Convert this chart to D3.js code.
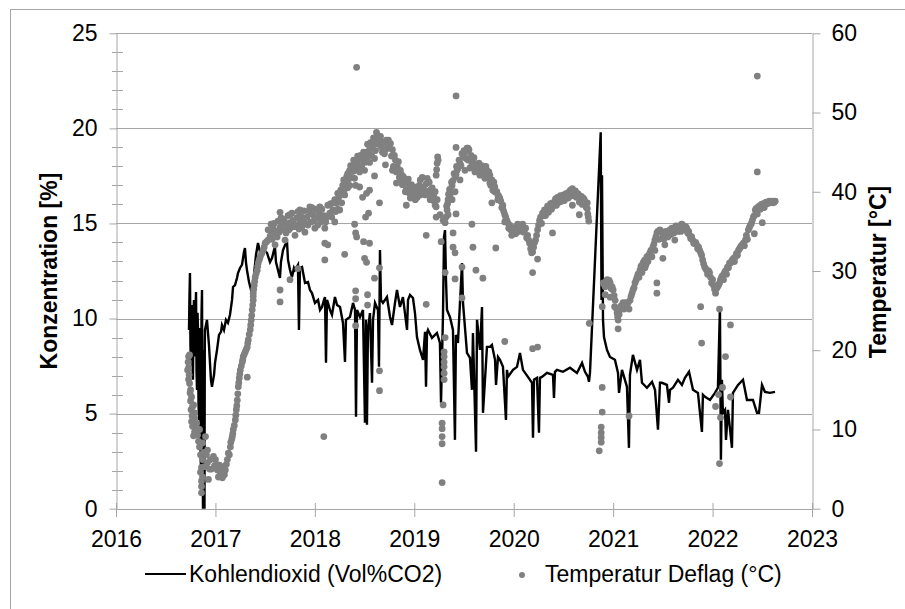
<!DOCTYPE html>
<html>
<head>
<meta charset="utf-8">
<script src="https://cdn.jsdelivr.net/npm/d3@7"></script>
<style>
  body { margin: 0; background: #fff; }
  svg text { font-family: "Liberation Sans", Arial, sans-serif; fill: #000; }
</style>
</head>
<body>
<svg id="chart" width="905" height="609"></svg>
<script>
// CO2 (left axis, %)
const co2Years = [
  2016.734, 2016.739, 2016.744, 2016.749, 2016.754, 2016.759, 2016.764, 2016.769, 2016.774, 2016.779,
  2016.784, 2016.789, 2016.795, 2016.800, 2016.805, 2016.810, 2016.815, 2016.820, 2016.825, 2016.830,
  2016.835, 2016.840, 2016.845, 2016.850, 2016.855, 2016.860, 2016.865, 2016.870, 2016.875, 2016.880,
  2016.885, 2016.888, 2016.890, 2016.893, 2016.895, 2016.915, 2016.935,
  2016.955, 2016.965, 2016.986, 2016.996, 2017.016, 2017.036, 2017.056, 2017.066, 2017.086, 2017.106,
  2017.126, 2017.146, 2017.167, 2017.177, 2017.197, 2017.217, 2017.227, 2017.247, 2017.267, 2017.287,
  2017.297, 2017.307, 2017.317, 2017.338, 2017.358, 2017.368, 2017.388, 2017.408, 2017.428, 2017.448,
  2017.468, 2017.488, 2017.519, 2017.549, 2017.569, 2017.589, 2017.599, 2017.609, 2017.629, 2017.649,
  2017.659, 2017.680, 2017.700, 2017.720, 2017.730, 2017.750, 2017.770, 2017.790, 2017.800, 2017.830,
  2017.840, 2017.850, 2017.871, 2017.901, 2017.931, 2017.951, 2017.971, 2018.001, 2018.032, 2018.052,
  2018.072, 2018.092, 2018.102, 2018.112, 2018.122, 2018.132, 2018.152, 2018.172, 2018.192, 2018.202,
  2018.223, 2018.253, 2018.283, 2018.303, 2018.313, 2018.353, 2018.384, 2018.404, 2018.414, 2018.424,
  2018.454, 2018.484, 2018.504, 2018.514, 2018.524, 2018.534, 2018.554, 2018.575, 2018.585, 2018.605,
  2018.635, 2018.645, 2018.655, 2018.665, 2018.685, 2018.725, 2018.756, 2018.776, 2018.806, 2018.826,
  2018.856, 2018.886, 2018.927, 2018.937, 2018.957, 2018.987, 2019.007, 2019.027, 2019.057, 2019.088,
  2019.108, 2019.118, 2019.128, 2019.138, 2019.178, 2019.228, 2019.258, 2019.269, 2019.289, 2019.299,
  2019.309, 2019.319, 2019.329, 2019.359, 2019.389, 2019.409, 2019.419, 2019.439, 2019.480, 2019.490,
  2019.530, 2019.560, 2019.580, 2019.590, 2019.621, 2019.631, 2019.661, 2019.681, 2019.691, 2019.731,
  2019.761, 2019.781, 2019.812, 2019.822, 2019.842, 2019.862, 2019.892, 2019.922, 2019.932, 2019.942,
  2019.993, 2020.033, 2020.063, 2020.093, 2020.143, 2020.184, 2020.194, 2020.204, 2020.234, 2020.254,
  2020.264, 2020.284, 2020.335, 2020.395, 2020.405, 2020.415, 2020.435, 2020.495, 2020.566, 2020.636,
  2020.687, 2020.717, 2020.747, 2020.757, 2020.767, 2020.875, 2020.883, 2020.888, 2020.898, 2020.908,
  2020.938, 2020.968, 2021.018, 2021.049, 2021.059, 2021.089, 2021.139, 2021.159, 2021.169, 2021.199,
  2021.240, 2021.270, 2021.290, 2021.340, 2021.391, 2021.421, 2021.451, 2021.471, 2021.491, 2021.541,
  2021.562, 2021.572, 2021.602, 2021.652, 2021.692, 2021.722, 2021.763, 2021.803, 2021.853, 2021.893,
  2021.903, 2021.924, 2021.974, 2022.024, 2022.054, 2022.074, 2022.084, 2022.094, 2022.104, 2022.125,
  2022.135, 2022.155, 2022.195, 2022.205, 2022.256, 2022.306, 2022.346, 2022.406, 2022.447, 2022.467,
  2022.497, 2022.527, 2022.577, 2022.628
];
const co2Values = [
  9.40, 11.20, 12.39, 8.50, 7.83, 10.20, 10.71, 7.50, 6.78, 9.80,
  10.98, 8.00, 9.40, 10.50, 11.40, 7.20, 6.25, 10.30, 9.40, 5.50,
  4.67, 9.50, 8.88, 3.20, 2.05, 10.20, 11.50, 4.00, 0, 7.50,
  8.35, 1.50, 0, 8.60, 9.40, 9.93, 8.61,
  6.78, 6.41, 7.04, 7.67, 8.35, 9.14, 9.30, 9.66, 9.40, 9.93,
  9.77, 10.19, 10.98, 11.66, 11.76, 12.13, 12.39, 12.66, 12.82, 13.50,
  13.71, 12.97, 12.55, 11.92, 11.50, 11.34, 12.29, 13.34, 13.97, 13.50,
  13.24, 13.60, 13.45, 12.97, 13.18, 13.60, 13.76, 12.97, 12.55, 12.13,
  12.97, 13.60, 13.87, 14.02, 13.08, 12.55, 12.18, 12.66, 12.55, 12.82,
  9.40, 12.66, 12.71, 11.87, 11.92, 11.50, 11.34, 10.82, 10.98, 10.45,
  10.61, 10.98, 11.13, 7.67, 10.98, 10.82, 10.45, 10.19, 10.82, 11.13,
  10.71, 10.61, 9.77, 7.72, 9.93, 10.08, 10.82, 10.45, 4.83, 10.45,
  10.08, 10.45, 4.52, 9.93, 4.41, 9.40, 10.29, 6.62, 9.93, 10.82,
  10.45, 7.46, 13.60, 10.98, 10.82, 11.13, 10.08, 9.66, 10.82, 11.50,
  10.61, 11.13, 9.40, 10.98, 11.24, 11.08, 10.29, 9.03, 8.35, 7.83,
  9.30, 6.41, 9.24, 9.40, 8.98, 9.24, 8.72, 5.57, 10.29, 14.29,
  14.65, 12.03, 10.45, 10.08, 9.40, 3.62, 9.14, 8.72, 12.92, 10.82,
  8.19, 7.93, 6.25, 9.24, 2.99, 9.93, 8.35, 10.61, 5.04, 8.51,
  8.51, 8.61, 7.83, 6.51, 7.98, 7.83, 7.46, 4.67, 7.30, 6.93,
  7.30, 7.46, 8.19, 7.30, 6.93, 6.62, 3.73, 6.78, 6.88, 3.99,
  6.88, 6.93, 7.14, 7.04, 5.83, 7.20, 7.30, 7.20, 7.41, 7.14,
  7.67, 7.20, 6.93, 6.67, 7.14, 19.80, 10.98, 17.54, 9.93, 9.03,
  8.35, 7.98, 7.83, 7.14, 6.09, 7.30, 6.41, 3.20, 7.04, 8.09,
  7.30, 7.83, 6.62, 6.36, 6.67, 6.25, 4.15, 6.62, 6.62, 6.51,
  5.57, 6.25, 6.36, 6.78, 6.51, 6.88, 7.20, 6.25, 6.09, 4.04,
  5.99, 5.88, 5.72, 6.09, 6.36, 10.56, 2.57, 6.78, 5.04, 5.20,
  3.62, 5.20, 3.20, 6.09, 6.51, 6.78, 5.72, 5.72, 5.04, 5.04,
  6.51, 6.14, 6.09, 6.14
];

// Temperatur Deflag (right axis, °C)
const tempYears = [
  2016.72, 2016.73, 2016.73, 2016.74, 2016.75, 2016.76, 2016.77, 2016.76, 2016.78, 2016.79,
  2016.79, 2016.81, 2016.84, 2016.84, 2016.86, 2016.86, 2016.86, 2016.87, 2016.87, 2016.87,
  2016.90, 2016.92, 2016.92, 2016.93, 2016.95, 2016.98, 2017.00, 2017.02, 2017.03, 2017.05,
  2017.07, 2017.08, 2017.10, 2017.12, 2017.15, 2017.17, 2017.18, 2017.20, 2017.21, 2017.22,
  2017.23, 2017.24, 2017.25, 2017.27, 2017.28, 2017.30, 2017.32, 2017.33, 2017.35, 2017.36,
  2017.37, 2017.38, 2017.38, 2017.39, 2017.40, 2017.42, 2017.43, 2017.45, 2017.48, 2017.50,
  2017.53, 2017.53, 2017.55, 2017.58, 2017.58, 2017.60, 2017.62, 2017.65, 2017.65, 2017.66,
  2017.68, 2017.70, 2017.72, 2017.75, 2017.75, 2017.78, 2017.80, 2017.82, 2017.85, 2017.85,
  2017.88, 2017.90, 2017.92, 2017.95, 2017.95, 2017.98, 2018.00, 2018.02, 2018.05, 2018.05,
  2018.08, 2018.10, 2018.12, 2018.13, 2018.15, 2018.18, 2018.20, 2018.20, 2018.22, 2018.24,
  2018.25, 2018.25, 2018.28, 2018.30, 2018.32, 2018.35, 2018.35, 2018.38, 2018.40, 2018.42,
  2018.45, 2018.45, 2018.48, 2018.50, 2018.50, 2018.52, 2018.55, 2018.55, 2018.58, 2018.60,
  2018.60, 2018.62, 2018.63, 2018.65, 2018.67, 2018.71, 2018.71, 2018.73, 2018.74, 2018.76,
  2018.78, 2018.78, 2018.81, 2018.83, 2018.86, 2018.86, 2018.89, 2018.91, 2018.93, 2018.96,
  2018.96, 2018.99, 2019.01, 2019.03, 2019.06, 2019.06, 2019.09, 2019.11, 2019.13, 2019.16,
  2019.16, 2019.19, 2019.22, 2019.23, 2019.24, 2019.23, 2019.22, 2019.26, 2019.29, 2019.31,
  2019.33, 2019.34, 2019.34, 2019.36, 2019.38, 2019.38, 2019.41, 2019.41, 2019.43, 2019.46,
  2019.46, 2019.49, 2019.51, 2019.51, 2019.53, 2019.55, 2019.56, 2019.57, 2019.59, 2019.61,
  2019.63, 2019.66, 2019.66, 2019.69, 2019.71, 2019.73, 2019.76, 2019.76, 2019.78, 2019.79,
  2019.81, 2019.81, 2019.84, 2019.84, 2019.86, 2019.89, 2019.89, 2019.91, 2019.91, 2019.93,
  2019.94, 2019.96, 2019.98, 2020.00, 2020.03, 2020.06, 2020.08, 2020.11, 2020.14, 2020.16,
  2020.18, 2020.20, 2020.22, 2020.24, 2020.26, 2020.29, 2020.33, 2020.36, 2020.39, 2020.41,
  2020.45, 2020.49, 2020.52, 2020.54, 2020.57, 2020.60, 2020.64, 2020.67, 2020.70, 2020.72,
  2020.74, 2020.75,
  2020.90, 2020.92, 2020.94, 2020.97, 2020.99, 2021.00, 2021.02, 2021.04, 2021.05, 2021.07,
  2021.09, 2021.10, 2021.12, 2021.14, 2021.17, 2021.19, 2021.20, 2021.22, 2021.24, 2021.27,
  2021.30, 2021.32, 2021.34, 2021.37, 2021.40, 2021.42, 2021.44, 2021.47, 2021.49, 2021.50,
  2021.52, 2021.54, 2021.57, 2021.60, 2021.62, 2021.64, 2021.67, 2021.70, 2021.72, 2021.74,
  2021.77, 2021.80, 2021.82, 2021.84, 2021.87, 2021.89, 2021.90, 2021.92, 2021.94, 2021.97,
  2022.00, 2022.03, 2022.05, 2022.07, 2022.09, 2022.12, 2022.15, 2022.18, 2022.20, 2022.23,
  2022.26, 2022.28, 2022.30, 2022.33, 2022.36, 2022.38, 2022.40, 2022.43, 2022.46, 2022.50,
  2022.53, 2022.56, 2022.59, 2022.62,
  2021.32, 2021.42, 2021.52, 2021.62, 2020.92, 2020.97,
  // band edges
  2016.725, 2016.730, 2016.735, 2016.740, 2016.745, 2016.750, 2016.755, 2016.765, 2016.770, 2016.780,
  2016.790, 2016.800, 2016.820, 2016.830, 2016.850, 2016.850, 2016.860, 2016.880, 2016.890, 2016.910,
  2016.940, 2016.960, 2016.990, 2017.010, 2017.040, 2017.060, 2017.090, 2017.110, 2017.130, 2017.140,
  2017.155, 2017.165, 2017.175, 2017.190, 2017.205, 2017.215, 2017.225, 2017.235, 2017.245, 2017.260,
  2017.275, 2017.290, 2017.310, 2017.325, 2017.340, 2017.355, 2017.365, 2017.375, 2017.380, 2017.385,
  2017.395, 2017.410, 2017.425, 2017.440, 2017.465, 2017.490, 2017.515, 2017.560, 2017.570, 2017.590,
  2017.610, 2017.630, 2017.640, 2017.670, 2017.690, 2017.710, 2017.730, 2017.740, 2017.760, 2017.770,
  2017.790, 2017.810, 2017.830, 2017.840, 2017.860, 2017.870, 2017.890, 2017.910, 2017.930, 2017.940,
  2017.960, 2017.970, 2017.990, 2018.010, 2018.030, 2018.040, 2018.060, 2018.070, 2018.090, 2018.110,
  2018.140, 2018.160, 2018.170, 2018.190, 2018.210, 2018.230, 2018.230, 2018.260, 2018.270, 2018.290,
  2018.290, 2018.310, 2018.330, 2018.330, 2018.340, 2018.360, 2018.370, 2018.390, 2018.390, 2018.410,
  2018.430, 2018.440, 2018.460, 2018.470, 2018.490, 2018.510, 2018.530, 2018.540, 2018.560, 2018.570,
  2018.590, 2018.610, 2018.620, 2018.640, 2018.660, 2018.680, 2018.690, 2018.700, 2018.720, 2018.750,
  2018.770, 2018.790, 2018.800, 2018.820, 2018.840, 2018.850, 2018.870, 2018.880, 2018.900, 2018.920,
  2018.940, 2018.950, 2018.970, 2018.980, 2019.000, 2019.020, 2019.040, 2019.050, 2019.070, 2019.080,
  2019.100, 2019.120, 2019.140, 2019.150, 2019.170, 2019.180, 2019.200, 2019.210, 2019.225, 2019.235,
  2019.320, 2019.325, 2019.335, 2019.345, 2019.355, 2019.370, 2019.375, 2019.390, 2019.400, 2019.420,
  2019.425, 2019.440, 2019.450, 2019.470, 2019.480, 2019.500, 2019.520, 2019.540, 2019.540, 2019.580,
  2019.600, 2019.620, 2019.640, 2019.650, 2019.670, 2019.680, 2019.700, 2019.720, 2019.740, 2019.750,
  2019.770, 2019.800, 2019.830, 2019.850, 2019.870, 2019.880, 2019.900, 2019.920, 2019.950, 2019.970,
  2019.990, 2020.010, 2020.020, 2020.040, 2020.050, 2020.070, 2020.090, 2020.100, 2020.120, 2020.130,
  2020.150, 2020.170, 2020.190, 2020.210, 2020.230, 2020.250, 2020.270, 2020.280, 2020.300, 2020.310,
  2020.320, 2020.340, 2020.350, 2020.370, 2020.380, 2020.400, 2020.420, 2020.430, 2020.440, 2020.460,
  2020.470, 2020.480, 2020.500, 2020.510, 2020.530, 2020.550, 2020.560, 2020.580, 2020.590, 2020.610,
  2020.620, 2020.630, 2020.650, 2020.660, 2020.680, 2020.690, 2020.710, 2020.730, 2020.740, 2020.745,
  2020.755, 2020.910, 2020.930, 2020.950, 2020.960, 2020.980, 2021.010, 2021.015, 2021.030, 2021.045,
  2021.060, 2021.080, 2021.110, 2021.130, 2021.150, 2021.160, 2021.180, 2021.210, 2021.230, 2021.250,
  2021.260, 2021.280, 2021.290, 2021.310, 2021.330, 2021.350, 2021.360, 2021.380, 2021.390, 2021.410,
  2021.430, 2021.450, 2021.460, 2021.480, 2021.510, 2021.530, 2021.550, 2021.560, 2021.580, 2021.590,
  2021.610, 2021.630, 2021.650, 2021.660, 2021.680, 2021.690, 2021.710, 2021.730, 2021.750, 2021.760,
  2021.780, 2021.790, 2021.810, 2021.830, 2021.850, 2021.860, 2021.880, 2021.910, 2021.930, 2021.950,
  2021.960, 2021.980, 2021.990, 2022.010, 2022.020, 2022.040, 2022.060, 2022.080, 2022.100, 2022.110,
  2022.130, 2022.140, 2022.160, 2022.170, 2022.190, 2022.210, 2022.220, 2022.240, 2022.250, 2022.270,
  2022.290, 2022.310, 2022.320, 2022.340, 2022.350, 2022.370, 2022.390, 2022.410, 2022.420, 2022.440,
  2022.450, 2022.470, 2022.480, 2022.490, 2022.510, 2022.520, 2022.540, 2022.550, 2022.570, 2022.580,
  2022.600, 2022.610, 2022.630,
  // scattered readings
  2017.32, 2017.65, 2017.65, 2017.75, 2017.83, 2018.10, 2018.13, 2018.10, 2018.09, 2018.42,
  2018.41, 2018.45, 2018.48, 2018.52, 2018.55, 2018.51, 2018.54, 2018.60, 2018.65, 2018.40,
  2018.41, 2018.42, 2018.49, 2018.55, 2018.30, 2018.50, 2018.52, 2018.65, 2018.60, 2018.41,
  2018.41, 2018.53, 2018.53, 2018.41, 2018.65, 2018.65, 2018.82, 2018.92, 2019.12, 2019.12,
  2019.20, 2019.21, 2019.22, 2019.27, 2019.31, 2019.31, 2019.30, 2019.30, 2019.30, 2019.30,
  2019.30, 2019.30, 2019.29, 2019.28, 2019.28, 2019.28, 2019.28, 2019.28, 2019.39, 2019.39,
  2019.41, 2019.41, 2019.42, 2019.42, 2019.42, 2019.48, 2019.48, 2019.58, 2019.59, 2019.62,
  2019.69, 2019.78, 2019.82, 2019.91, 2020.19, 2020.24, 2020.19, 2020.24, 2020.39, 2020.59,
  2020.66, 2020.76, 2020.89, 2020.89, 2020.89, 2020.88, 2020.88, 2020.88, 2020.88, 2020.86,
  2021.05, 2021.16, 2021.44, 2021.44, 2021.50, 2021.88, 2021.89, 2022.07, 2022.03, 2022.06,
  2022.08, 2022.07, 2022.10, 2022.13, 2022.18, 2022.18, 2022.42, 2022.45, 2022.45, 2022.50
];
const tempValues = [
  17.5, 19.2, 16.3, 19.4, 15.0, 14.1, 12.9, 11.0, 13.1, 12.1,
  9.7, 10.8, 10.0, 7.8, 5.2, 2.8, 2.0, 8.3, 6.2, 4.0,
  9.1, 7.4, 5.8, 3.7, 6.2, 6.6, 6.2, 4.9, 4.0, 4.5,
  3.9, 5.3, 4.9, 6.2, 7.8, 9.1, 10.0, 11.2, 12.5, 13.7,
  15.4, 16.5, 17.5, 18.5, 19.2, 19.8, 20.4, 21.3, 22.6, 23.8,
  25.1, 26.3, 27.2, 28.2, 29.2, 30.1, 31.0, 31.8, 32.6, 33.5,
  33.9, 35.2, 34.4, 34.8, 35.4, 33.3, 34.3, 35.5, 37.4, 36.7,
  35.2, 33.9, 35.8, 36.1, 37.1, 36.4, 34.5, 36.7, 36.2, 37.7,
  36.4, 34.9, 36.8, 37.3, 38.1, 37.1, 35.4, 36.7, 37.1, 38.1,
  36.4, 35.4, 36.8, 38.3, 37.3, 37.7, 36.2, 39.0, 38.6, 39.3,
  39.6, 37.7, 40.8, 39.6, 41.9, 42.7, 40.8, 43.1, 41.7, 43.6,
  44.0, 42.5, 44.4, 43.7, 42.7, 45.0, 45.3, 43.7, 45.6, 46.1,
  44.2, 46.6, 47.1, 46.5, 45.6, 45.3, 43.4, 45.9, 46.5, 46.1,
  45.3, 42.7, 44.0, 43.1, 42.7, 41.5, 41.9, 40.0, 41.1, 40.6,
  39.2, 40.2, 39.0, 39.3, 41.5, 39.6, 40.6, 39.6, 41.7, 40.2,
  39.0, 39.3, 42.1, 43.6, 44.0, 39.0, 38.1, 37.1, 36.4, 36.1,
  37.7, 37.1, 39.0, 39.6, 40.8, 39.0, 41.9, 40.0, 42.7, 43.6,
  41.5, 44.4, 45.0, 42.7, 45.5, 45.3, 43.0, 44.6, 44.0, 42.5,
  43.4, 43.0, 42.1, 43.0, 41.7, 42.7, 42.1, 41.1, 41.5, 40.2,
  40.6, 40.0, 39.6, 39.0, 39.2, 38.3, 37.9, 37.1, 36.2, 36.4,
  36.1, 35.8, 34.5, 35.2, 35.5, 35.8, 35.8, 35.2, 34.5, 33.5,
  32.3, 33.0, 33.9, 35.2, 36.4, 37.3, 37.7, 38.1, 38.6, 38.7,
  39.0, 39.2, 39.3, 39.6, 40.2, 39.8, 39.8, 39.0, 39.2, 38.6,
  37.9, 36.8,
  28.5, 28.0, 28.9, 28.5, 28.0, 27.6, 26.3, 24.7, 23.8, 25.1,
  25.7, 26.0, 25.7, 25.5, 26.3, 27.2, 27.6, 28.5, 29.2, 30.1,
  31.0, 31.4, 31.8, 32.3, 33.0, 33.9, 34.8, 35.2, 34.9, 34.3,
  34.5, 34.8, 35.2, 35.2, 35.4, 35.5, 35.4, 35.8, 35.5, 35.4,
  34.5, 33.9, 33.5, 33.3, 32.6, 32.0, 31.4, 30.5, 30.1, 29.8,
  28.9, 27.2, 28.0, 28.5, 29.2, 29.8, 30.5, 31.0, 31.4, 31.8,
  32.6, 33.0, 33.3, 33.9, 35.2, 35.8, 36.4, 37.7, 38.1, 38.3,
  38.6, 38.7, 38.7, 38.7,
  30.4, 32.6, 33.3, 33.9, 27.0, 26.7,
  // band edges
  18.5, 17.8, 16.9, 15.8, 14.6, 13.6, 12.5, 11.7, 10.4, 9.2,
  11.4, 10.2, 9.3, 8.5, 6.8, 4.6, 3.5, 7.1, 5.3, 6.8,
  5.0, 5.0, 5.4, 5.6, 5.5, 5.0, 4.3, 5.6, 7.0, 6.8,
  8.4, 8.8, 9.5, 10.5, 11.8, 13.0, 14.5, 15.9, 17.0, 18.0,
  18.8, 19.5, 20.1, 20.9, 22.0, 23.2, 24.4, 25.7, 26.8, 27.7,
  28.7, 29.7, 30.6, 31.4, 32.2, 33.0, 33.7, 35.9, 34.0, 36.0,
  35.0, 36.3, 34.9, 36.0, 36.5, 34.8, 37.0, 35.2, 35.5, 37.3,
  35.6, 35.8, 37.5, 35.3, 36.9, 35.6, 37.6, 36.0, 35.8, 37.6,
  36.2, 38.0, 36.3, 37.8, 35.8, 37.5, 36.2, 37.8, 37.0, 36.2,
  37.0, 38.5, 36.8, 38.6, 37.5, 39.8, 37.8, 40.2, 38.6, 40.0,
  41.5, 41.0, 42.3, 40.5, 41.6, 43.3, 41.8, 42.6, 44.0, 42.9,
  44.5, 43.1, 44.6, 43.2, 45.0, 44.2, 46.0, 44.5, 46.2, 44.6,
  46.8, 45.2, 47.5, 46.0, 47.0, 45.0, 46.3, 44.8, 46.5, 45.5,
  44.5, 43.2, 44.6, 42.5, 43.8, 41.8, 42.2, 40.9, 41.4, 40.3,
  41.6, 39.8, 40.9, 39.4, 40.6, 39.8, 40.5, 40.8, 40.2, 41.8,
  40.2, 41.0, 40.0, 41.2, 39.6, 40.5, 38.8, 40.0, 42.8, 44.4,
  36.8, 38.2, 38.5, 39.7, 40.3, 40.0, 41.2, 41.4, 42.3, 42.2,
  43.2, 43.0, 44.0, 43.3, 44.8, 45.2, 44.2, 45.5, 44.0, 43.5,
  44.3, 43.0, 42.7, 43.6, 42.4, 43.3, 42.2, 43.2, 41.8, 42.5,
  40.8, 41.2, 40.0, 39.4, 38.8, 38.0, 37.5, 36.8, 35.4, 35.2,
  34.9, 35.5, 34.7, 35.9, 35.0, 35.3, 35.9, 34.9, 35.4, 34.2,
  33.9, 32.8, 32.4, 33.6, 34.5, 35.8, 36.8, 36.0, 37.0, 37.7,
  37.0, 38.2, 37.4, 38.5, 37.8, 38.2, 39.1, 38.3, 39.3, 38.7,
  39.5, 38.8, 39.6, 38.9, 39.8, 39.2, 40.0, 39.5, 40.4, 39.5,
  40.1, 39.3, 39.7, 38.7, 39.4, 38.4, 39.0, 38.0, 38.6, 37.2,
  36.3, 28.3, 28.7, 28.2, 28.8, 27.8, 26.9, 25.5, 25.3, 24.2,
  24.5, 25.6, 25.2, 26.0, 26.0, 25.2, 26.8, 27.9, 28.8, 29.6,
  29.2, 30.6, 29.8, 31.2, 30.8, 31.2, 32.0, 32.6, 31.8, 33.4,
  34.3, 35.0, 34.0, 35.0, 34.0, 35.0, 34.3, 35.0, 34.6, 35.4,
  34.8, 35.7, 35.0, 35.7, 35.0, 35.9, 35.2, 35.6, 34.8, 35.0,
  34.1, 34.3, 33.5, 33.6, 32.8, 33.0, 32.3, 30.9, 30.3, 29.6,
  30.0, 29.2, 28.5, 28.2, 27.7, 27.8, 28.2, 28.9, 29.4, 28.9,
  30.0, 29.6, 30.4, 31.0, 31.2, 31.6, 31.2, 32.2, 32.0, 32.8,
  33.2, 33.5, 33.2, 34.5, 34.0, 35.5, 36.0, 36.8, 37.0, 37.9,
  37.2, 38.2, 37.8, 38.4, 38.5, 38.0, 38.7, 38.5, 38.8, 38.6,
  38.8, 38.6, 38.8,
  // scattered readings
  16.6, 27.6, 26.1, 28.9, 30.3, 33.5, 33.3, 31.4, 9.1, 55.7,
  40.8, 40.6, 39.3, 39.8, 40.2, 36.8, 37.3, 42.0, 38.6, 35.9,
  34.8, 34.3, 33.7, 33.5, 32.1, 31.6, 31.1, 30.4, 29.1, 27.5,
  26.5, 27.0, 25.7, 23.1, 17.4, 14.9, 41.1, 38.3, 34.5, 25.8,
  39.3, 38.3, 36.8, 33.7, 29.8, 21.6, 19.8, 19.2, 18.5, 17.9,
  17.1, 16.3, 13.1, 10.8, 10.1, 9.1, 8.2, 3.3, 34.8, 33.0,
  32.3, 29.0, 37.2, 45.6, 52.1, 30.5, 26.6, 35.9, 33.0, 30.1,
  29.1, 38.6, 32.9, 21.1, 29.8, 31.5, 20.2, 20.4, 34.8, 38.3,
  37.1, 23.4, 25.5, 15.3, 12.2, 10.3, 9.6, 9.0, 8.4, 7.3,
  22.7, 11.7, 28.5, 27.2, 31.6, 25.5, 20.9, 25.2, 12.9, 14.4,
  11.5, 5.7, 15.3, 19.2, 23.2, 14.1, 34.7, 42.5, 54.6, 36.1
];

const yearTicks = [2016, 2017, 2018, 2019, 2020, 2021, 2022, 2023];
const concTicks = [0, 5, 10, 15, 20, 25];
const concMinor = [1, 2, 3, 4, 6, 7, 8, 9, 11, 12, 13, 14, 16, 17, 18, 19, 21, 22, 23, 24];
const tempTicks = [0, 10, 20, 30, 40, 50, 60];

const co2Label = "Kohlendioxid (Vol%CO2)";
const tempLabel = "Temperatur Deflag (°C)";

const svg = d3.select("#chart");
const gray = "#a6a6a6";
const fontSize = 23;

const x = d3.scaleLinear().domain([2016, 2023]).range([116, 812]);
const yL = d3.scaleLinear().domain([0, 25]).range([508.7, 33.3]);
const yR = d3.scaleLinear().domain([0, 60]).range([508.7, 33.3]);

// outer frame
svg.append("rect")
    .attr("x", 10.5).attr("y", 9.5)
    .attr("width", 1000).attr("height", 1000)
    .attr("fill", "none").attr("stroke", gray);

// gridlines
svg.append("g").selectAll("line")
    .data(concTicks.filter(d => d > 0))
    .join("line")
    .attr("x1", 116).attr("x2", 812)
    .attr("y1", d => Math.round(yL(d)) + 0.5)
    .attr("y2", d => Math.round(yL(d)) + 0.5)
    .attr("stroke", gray);

var styleAxis = function(g) {
    g.selectAll("path.domain").attr("stroke", gray);
    g.selectAll(".tick line").attr("stroke", gray);
    g.selectAll("text")
        .attr("font-size", fontSize)
        .attr("font-family", "Liberation Sans, Arial, sans-serif")
        .attr("fill", "#000");
};

// left axis
svg.append("g")
    .attr("transform", "translate(116.5,0)")
    .call(d3.axisLeft(yL).tickValues(concTicks).tickSize(7).tickPadding(12).tickSizeOuter(0))
    .call(styleAxis);

svg.append("g").selectAll("line")
    .data(concMinor)
    .join("line")
    .attr("x1", 112).attr("x2", 123)
    .attr("y1", d => Math.round(yL(d)) + 0.5)
    .attr("y2", d => Math.round(yL(d)) + 0.5)
    .attr("stroke", gray);

// right axis
svg.append("g")
    .attr("transform", "translate(812.5,0)")
    .call(d3.axisRight(yR).tickValues(tempTicks).tickSize(8).tickPadding(11).tickSizeOuter(0))
    .call(styleAxis);

// bottom axis
svg.append("g")
    .attr("transform", "translate(0,509)")
    .call(d3.axisBottom(x).tickValues(yearTicks).tickSize(8).tickPadding(14)
        .tickFormat(d3.format("d")).tickSizeOuter(0))
    .call(styleAxis)
    .call(g => g.selectAll(".tick line").attr("y1", -6));

// CO2 line
const co2 = co2Years.map((d, i) => ({ t: d, v: co2Values[i] }));
svg.append("path")
    .datum(co2)
    .attr("fill", "none")
    .attr("stroke", "#000")
    .attr("stroke-width", 2.4)
    .attr("d", d3.line().x(d => x(d.t)).y(d => yL(d.v)));

// temperature points
const temp = tempYears.map((d, i) => ({ t: d, v: tempValues[i] }))
    .filter(d => d.v !== undefined);
svg.append("g").selectAll("circle")
    .data(temp)
    .join("circle")
    .attr("cx", d => x(d.t))
    .attr("cy", d => yR(d.v))
    .attr("r", 3.4)
    .attr("fill", "#808080");

// axis titles
svg.append("text")
    .attr("transform", "translate(57,271) rotate(-90)")
    .attr("text-anchor", "middle")
    .attr("font-size", fontSize)
    .attr("font-weight", "bold")
    .text("Konzentration [%]");

svg.append("text")
    .attr("transform", "translate(886,272) rotate(-90)")
    .attr("text-anchor", "middle")
    .attr("font-size", fontSize)
    .attr("font-weight", "bold")
    .text("Temperatur [°C]");

// legend
const legend = svg.append("g");
legend.append("line")
    .attr("x1", 145).attr("x2", 186)
    .attr("y1", 574).attr("y2", 574)
    .attr("stroke", "#000").attr("stroke-width", 2);
legend.append("text")
    .attr("x", 189).attr("y", 582)
    .attr("font-size", fontSize)
    .text(co2Label);
legend.append("circle")
    .attr("cx", 522).attr("cy", 575).attr("r", 3)
    .attr("fill", "#808080");
legend.append("text")
    .attr("x", 545).attr("y", 582)
    .attr("font-size", fontSize)
    .text(tempLabel);
</script>
</body>
</html>
